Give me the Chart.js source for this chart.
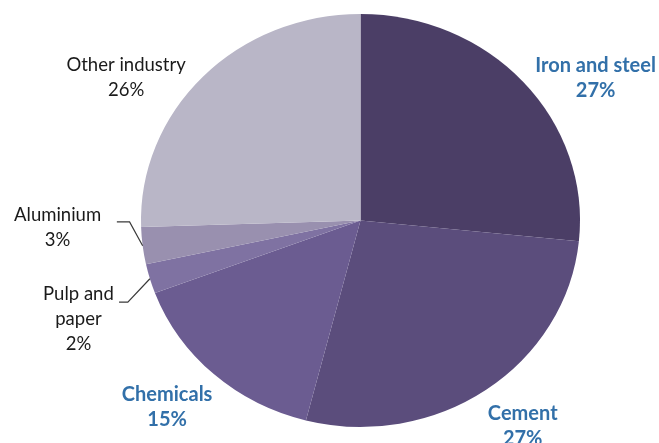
<!DOCTYPE html>
<html>
<head>
<meta charset="utf-8">
<script src="https://cdn.jsdelivr.net/npm/chart.js@4.4.1/dist/chart.umd.min.js"></script>
<style>
html,body{margin:0;padding:0;background:#fff;}
#wrap{width:659px;height:443px;position:relative;}
</style>
</head>
<body>
<div id="wrap"><canvas id="c" width="659" height="443"></canvas></div>
<script>
// Data
const categories = ["Iron and steel", "Cement", "Chemicals", "Pulp and paper", "Aluminium", "Other industry"];
const shares = [26.6, 27.4, 15.3, 2.3, 2.9, 25.5];
const sliceColors = ["#4b3e66", "#5b4d7c", "#6b5c91", "#7f72a2", "#9990af", "#b9b6c7"];

// label text lines (percent computed from shares)
const labelLines = [
  ["Iron and steel"],
  ["Cement"],
  ["Chemicals"],
  ["Pulp and", "paper"],
  ["Aluminium"],
  ["Other industry"]
];
const labelBold = [true, true, true, false, false, false];
// label anchors relative to pie centre in units of radius (x uses horizontal radius)
const labelAnchor = [
  [1.071, -0.751], [0.739, 0.935], [-0.881, 0.842],
  [-1.285, 0.356], [-1.380, -0.027], [-1.068, -0.751]
];
// leader elbows for small slices (relative, same units)
const leaders = {3: [[-1.100, 0.395], [-1.060, 0.395]], 4: [[-1.110, 0.007], [-1.052, 0.007]]};

const XSTRETCH = 219.5 / 206.5;

const ellipsePlugin = {
  id: 'ellipse',
  beforeDatasetsDraw(chart) {
    const a = chart.getDatasetMeta(0).data[0];
    const ctx = chart.ctx;
    ctx.save();
    ctx.translate(a.x, 0);
    ctx.scale(XSTRETCH, 1);
    ctx.translate(-a.x, 0);
  },
  afterDatasetsDraw(chart) {
    chart.ctx.restore();
  }
};

const labelPlugin = {
  id: 'pieLabels',
  afterDraw(chart) {
    const ctx = chart.ctx;
    const arcs = chart.getDatasetMeta(0).data;
    const cx = arcs[0].x, cy = arcs[0].y, r = arcs[0].outerRadius, rx = r * XSTRETCH;
    arcs.forEach((arc, i) => {
      const lines = labelLines[i].concat([Math.round(shares[i]) + "%"]);
      const lx = cx + labelAnchor[i][0] * rx;
      const ly = cy + labelAnchor[i][1] * r;
      ctx.save();
      ctx.font = labelBold[i] ? "bold 20px Lato, 'Open Sans', sans-serif" : "18.5px Lato, 'Open Sans', sans-serif";
      ctx.fillStyle = labelBold[i] ? "#3270a9" : "#1a1a1a";
      ctx.textAlign = "center";
      ctx.textBaseline = "middle";
      lines.forEach((t, k) => ctx.fillText(t, lx, ly + k * 25));
      ctx.restore();
      if (leaders[i]) {
        const mid = (arc.startAngle + arc.endAngle) / 2;
        const ex = cx + Math.cos(mid) * rx;
        const ey = cy + Math.sin(mid) * r;
        ctx.save();
        ctx.strokeStyle = "#3a3a3a";
        ctx.lineWidth = 1.2;
        ctx.beginPath();
        ctx.moveTo(cx + leaders[i][0][0] * rx, cy + leaders[i][0][1] * r);
        ctx.lineTo(cx + leaders[i][1][0] * rx, cy + leaders[i][1][1] * r);
        ctx.lineTo(ex, ey);
        ctx.stroke();
        ctx.restore();
      }
    });
  }
};

new Chart(document.getElementById('c'), {
  type: 'pie',
  data: {
    labels: categories,
    datasets: [{
      data: shares,
      backgroundColor: sliceColors,
      borderWidth: 0
    }]
  },
  options: {
    responsive: false,
    animation: false,
    devicePixelRatio: 1,
    layout: { padding: { left: 154, right: 92, top: 14, bottom: 16 } },
    plugins: { legend: { display: false }, tooltip: { enabled: false } }
  },
  plugins: [ellipsePlugin, labelPlugin]
});
</script>
</body>
</html>
